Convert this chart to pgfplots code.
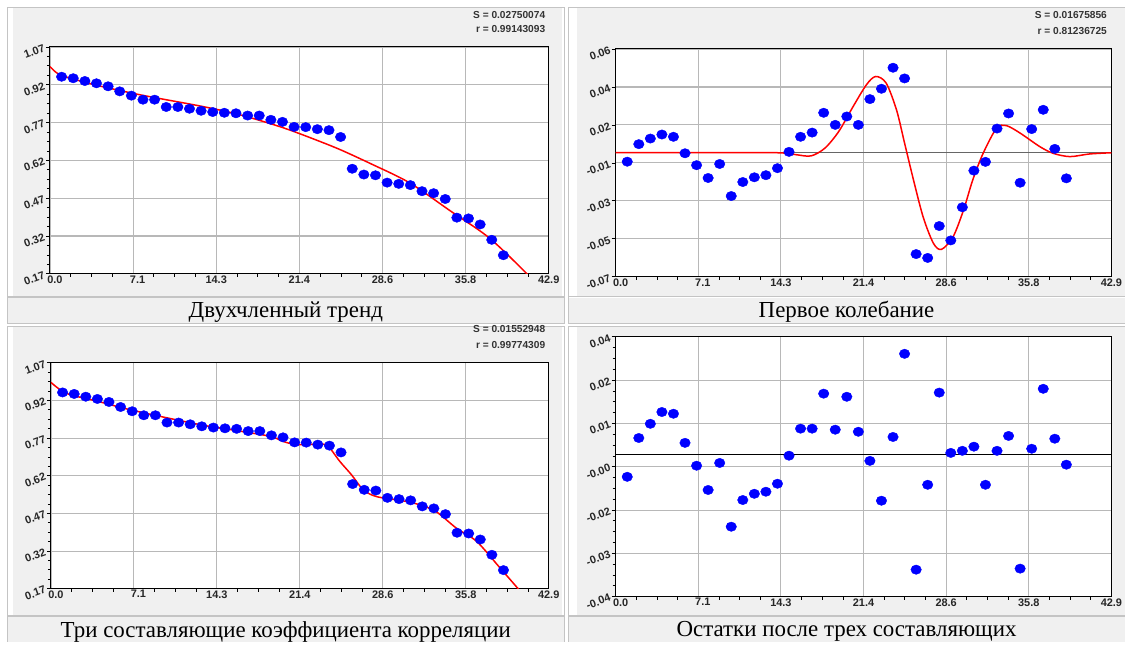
\documentclass[border=0pt]{standalone}
\usepackage{pgfplots}
\usepackage{pgfplotstable}
\pgfplotsset{compat=1.18}
\usepackage{fontspec}
\setmainfont{Liberation Serif}
\newfontfamily\lsans{Liberation Sans}

\definecolor{panelbg}{HTML}{F0F0F0}
\definecolor{cellline}{HTML}{C4C4C4}
\definecolor{gridc}{HTML}{B8B8B8}
\definecolor{ptblue}{HTML}{0000FF}
\definecolor{fitred}{HTML}{FF0000}

% observed values (shared by both trend panels)
\pgfplotstableread{
x y
1 0.952
2 0.946
3 0.935
4 0.926
5 0.914
6 0.894
7 0.877
8 0.861
9 0.861
10 0.832
11 0.832
12 0.825
13 0.817
14 0.812
15 0.809
16 0.807
17 0.798
18 0.798
19 0.781
20 0.773
21 0.753
22 0.752
23 0.744
24 0.740
25 0.713
26 0.587
27 0.564
28 0.561
29 0.532
30 0.527
31 0.522
32 0.498
33 0.490
34 0.467
35 0.393
36 0.390
37 0.366
38 0.305
39 0.244
}\trend

% first oscillation (residuals of the trend)
\pgfplotstableread{
x y
1 -0.0043
2 0.0057
3 0.0089
4 0.0112
5 0.0099
6 0.0005
7 -0.0063
8 -0.0136
9 -0.0056
10 -0.0239
11 -0.0159
12 -0.0132
13 -0.0120
14 -0.0080
15 0.0013
16 0.0099
17 0.0123
18 0.0236
19 0.0167
20 0.0215
21 0.0167
22 0.0314
23 0.0373
24 0.0493
25 0.0432
26 -0.0570
27 -0.0592
28 -0.0410
29 -0.0492
30 -0.0303
31 -0.0094
32 -0.0044
33 0.0146
34 0.0232
35 -0.0163
36 0.0143
37 0.0253
38 0.0030
39 -0.0138
}\osc

% residuals after three components
\pgfplotstableread{
x y
1 -0.0054
2 0.0058
3 0.0099
4 0.0133
5 0.0128
6 0.0044
7 -0.0022
8 -0.0092
9 -0.0014
10 -0.0198
11 -0.0121
12 -0.0103
13 -0.0097
14 -0.0074
15 0.0007
16 0.0085
17 0.0085
18 0.0186
19 0.0082
20 0.0177
21 0.0076
22 -0.0008
23 -0.0123
24 0.0061
25 0.0301
26 -0.0322
27 -0.0077
28 0.0189
29 0.0015
30 0.0021
31 0.0033
32 -0.0077
33 0.0021
34 0.0064
35 -0.0319
36 0.0027
37 0.0200
38 0.0056
39 -0.0019
}\resid

\pgfplotsset{
  panel/.style={
    scale only axis,
    scaled ticks=false,
    xmin=0, xmax=42.9,
    xtick={0,7.15,14.3,21.45,28.6,35.75,42.9},
    xticklabels={\hspace{10bp}0.0,\hspace{9bp}7.1,14.3,21.4,28.6,35.8,42.9},
    minor x tick num=3, minor y tick num=3,
    xtick pos=bottom, ytick pos=left,
    grid=major, major grid style={gridc, line width=1.1bp},
    axis line style={black, line width=1bp},
    tick style={black, line width=0.8bp},
    major x tick style={draw=none},
    tick align=outside, major tick length=4bp, minor tick length=3bp,
    ticklabel style={font=\lsans\bfseries\fontsize{11}{12}\selectfont, text=black!85},
    xticklabel style={inner sep=0.5bp, yshift=3bp},
    yticklabel style={rotate=20, anchor=east, inner sep=1.5bp},
    axis background/.style={fill=white},
  },
  dots/.style={only marks, mark=*, mark size=4.7bp, color=ptblue,
    mark options={fill=ptblue, draw=none, xscale=1.12}},
  fit/.style={fitred, line width=1.5bp, smooth, no marks},
}

\newcommand{\stat}[3]{%
  \node[anchor=east, font=\lsans\bfseries\fontsize{10.2}{11}\selectfont, text=black!80] at (#1,#2) {#3};}

\begin{document}
\begin{tikzpicture}
\begin{scope}[x=1bp,y=-1bp]
  \fill[white] (0,0) rectangle (1126,642);
  % chart cells
  \fill[panelbg] (13,8) rectangle (562,296);
  \fill[panelbg] (577,8) rectangle (1126,296);
  \fill[panelbg] (13,327) rectangle (562,615);
  \fill[panelbg] (577,327) rectangle (1126,615);
  % caption cells
  \fill[panelbg] (8,298) rectangle (565,323);
  \fill[panelbg] (569,298) rectangle (1126,323);
  \fill[panelbg] (8,617) rectangle (565,642);
  \fill[panelbg] (569,617) rectangle (1126,642);
  \begin{scope}[cellline, line width=1.2bp]
    \draw (7.5,7.5) rectangle (565,297);
    \draw (568.5,7.5) -- (1126,7.5);
    \draw (568.5,7.5) -- (568.5,297) -- (1126,297);
    \draw (7.5,297.5) rectangle (565,323.5);
    \draw (568.5,297.5) -- (568.5,323.5) -- (1126,323.5);
    \draw (7.5,326.5) rectangle (565,616);
    \draw (568.5,326.5) -- (1126,326.5);
    \draw (568.5,326.5) -- (568.5,616) -- (1126,616);
    \draw (7.5,616.5) -- (7.5,642);
    \draw (565,616.5) -- (565,642);
    \draw (7.5,616.5) -- (565,616.5);
    \draw (568.5,616.5) -- (568.5,642);
    \draw (568.5,616.5) -- (1126,616.5);
  \end{scope}
  % captions
  \begin{scope}[font=\fontsize{23}{24}\selectfont, text=black]
    \node at (286,312) {Двухчленный тренд};
    \node at (847,312) {Первое колебание};
    \node at (286,632) {Три составляющие коэффициента корреляции};
    \node at (847,632) {Остатки после трех составляющих};
  \end{scope}
  \stat{549}{15}{S = 0.02750074}
  \stat{549}{29}{r = 0.99143093}
  \stat{1111}{15}{S = 0.01675856}
  \stat{1111}{31}{r = 0.81236725}
  \stat{549}{329.5}{S = 0.01552948}
  \stat{549}{345}{r = 0.99774309}
\end{scope}

% ---- top left: two-term trend
\begin{axis}[panel, at={(50bp,-274bp)}, anchor=south west,
  width=499bp, height=227bp,
  ymin=0.17, ymax=1.07,
  ytick={0.17,0.32,0.47,0.62,0.77,0.92,1.07},
  yticklabels={0.17,0.32,0.47,0.62,0.77,0.92,1.07}]
  \addplot[dots] table {\trend};
  \addplot[fit] coordinates {(0,0.992) (0.5,0.970) (1,0.957) (2,0.943) (4.3,0.915)
    (8,0.878) (12.9,0.836) (16,0.805) (18.6,0.771) (20.6,0.741) (22.9,0.701)
    (25,0.662) (27.5,0.609) (30.9,0.532) (34.4,0.421) (37.8,0.312) (41.1,0.167) (42,0.12)};
\end{axis}

% ---- top right: first oscillation
\begin{axis}[panel, at={(616bp,-277bp)}, anchor=south west,
  width=496bp, height=228bp,
  ymin=-0.07, ymax=0.06,
  ytick={-0.07,-0.048333,-0.026667,-0.005,0.016667,0.038333,0.06},
  yticklabels={-0.07,-0.05,-0.03,-0.01,0.02,0.04,0.06}]
  \addplot[color=black!60, line width=1.5bp] coordinates {(0,0.0008) (42.9,0.0008)};
  \addplot[dots] table {\osc};
  \addplot[fit] coordinates {(0,0.0008) (8,0.0008) (14,0.0008) (15.6,-0.0003) (16.9,-0.0010)
    (18.1,0.0034) (19.3,0.0129) (20.55,0.0272) (21.7,0.0396) (22.5,0.0443) (23.4,0.0406)
    (24.3,0.0253) (25.0,0.0063) (25.7,-0.0128) (26.6,-0.0357) (27.5,-0.0509) (28.2,-0.0543)
    (29.2,-0.0471) (30.1,-0.0319) (30.9,-0.0147) (31.8,0.0005) (32.96,0.0148) (33.8,0.0163)
    (35.0,0.0120) (36.7,0.0043) (37.85,0.0005) (39.3,-0.0014) (41.0,0.0001) (42.9,0.0008)};
\end{axis}

% ---- bottom left: three components
\begin{axis}[panel, at={(51bp,-589bp)}, anchor=south west,
  width=498bp, height=226bp,
  ymin=0.17, ymax=1.07,
  ytick={0.17,0.32,0.47,0.62,0.77,0.92,1.07},
  yticklabels={0.17,0.32,0.47,0.62,0.77,0.92,1.07}]
  \addplot[dots] table {\trend};
  \addplot[fit] coordinates {(0,0.992) (1.35,0.948) (4,0.917) (7.1,0.880) (12.8,0.824)
    (16,0.800) (18.9,0.777) (20.0,0.757) (20.9,0.746) (22.05,0.744) (23.2,0.747) (23.9,0.737)
    (24.9,0.677) (25.9,0.624) (26.9,0.565) (28.05,0.537) (30.35,0.520) (31.8,0.504)
    (33.2,0.477) (34.95,0.411) (36.7,0.358) (38.7,0.253) (40.3,0.168) (41,0.13)};
\end{axis}

% ---- bottom right: residuals
\begin{axis}[panel, at={(616bp,-597bp)}, anchor=south west,
  width=496bp, height=260bp,
  ymin=-0.04, ymax=0.035,
  ytick={-0.04,-0.0275,-0.015,-0.0025,0.01,0.0225,0.035},
  yticklabels={-0.04,-0.03,-0.02,-0.00,0.01,0.02,0.04}]
  \addplot[color=black, line width=1.2bp] coordinates {(0,0.001) (42.9,0.001)};
  \addplot[dots] table {\resid};
\end{axis}
\end{tikzpicture}
\end{document}
